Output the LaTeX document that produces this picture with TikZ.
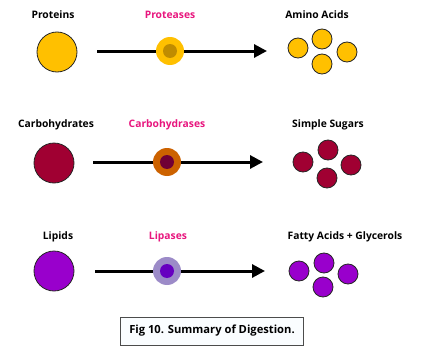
\documentclass[tikz,border=0pt]{standalone}
\usepackage{fontspec}
\setmainfont{Open Sans}
\usepackage{tikz}
\usetikzlibrary{positioning, arrows.meta}

\definecolor{protyel}{HTML}{FFC000}
\definecolor{protdark}{HTML}{C08C00}
\definecolor{carbred}{HTML}{A00032}
\definecolor{carborange}{HTML}{CC6200}
\definecolor{carbdark}{HTML}{700035}
\definecolor{lippurple}{HTML}{9900CC}
\definecolor{liplav}{HTML}{9C8BC8}
\definecolor{lipdark}{HTML}{6600C0}
\definecolor{enzpink}{HTML}{E8167E}

\begin{document}
\begin{tikzpicture}[x=1pt, y=-1pt,
      font=\bfseries\fontsize{10.3}{12}\selectfont,
      lbl/.style={inner sep=0pt},
      enzlbl/.style={inner sep=0pt, text=enzpink},
      food/.style={circle, draw=black!85, line width=0.8pt, minimum size=40pt, inner sep=0pt},
      piece/.style={circle, draw=black!85, line width=0.8pt, minimum size=20pt, inner sep=0pt},
      enzyme/.style={circle, minimum size=28pt, inner sep=0pt},
      site/.style={circle, minimum size=14pt, inner sep=0pt},
      arr/.style={-{Triangle[length=13pt, width=13pt]}, line width=3pt, draw=black},
      caption/.style={draw=black!70, fill=cyan!2, line width=0.6pt, minimum width=183pt,
                      minimum height=28pt, inner sep=0pt, font=\bfseries\fontsize{11.2}{13}\selectfont}]
    \useasboundingbox[fill=white] (0,0) rectangle (421,356);
    % row 1: proteins
    \node[lbl] (p) at (53,15) {Proteins};
    \node[enzlbl] (pe) at (170,15) {Proteases};
    \node[lbl] (pp) at (317,15) {Amino Acids};
    \node[food, fill=protyel] (p1) at (57,52) {};
    \coordinate (pa1) at (97,51);
    \coordinate (pa2) at (267,51);
    \draw[arr] (pa1) -- (pa2);
    \node[enzyme, fill=protyel] (pz) at (170,51) {};
    \node[site, fill=protdark] (ps) at (pz) {};
    \node[piece, fill=protyel] (pp1) at (298,48) {};
    \node[piece, fill=protyel] (pp2) at (322,39) {};
    \node[piece, fill=protyel] (pp3) at (322,64) {};
    \node[piece, fill=protyel] (pp4) at (347,52) {};
    % row 2: carbohydrates
    \node[lbl] (c) at (56,125) {Carbohydrates};
    \node[enzlbl] (ce) at (167,125) {Carbohydrases};
    \node[lbl] (cp) at (328,125) {Simple Sugars};
    \node[food, fill=carbred] (c1) at (54,163) {};
    \coordinate (ca1) at (93,162);
    \coordinate (ca2) at (263,162);
    \draw[arr] (ca1) -- (ca2);
    \node[enzyme, fill=carborange] (cz) at (167,162) {};
    \node[site, fill=carbdark] (cs) at (cz) {};
    \node[piece, fill=carbred] (cp1) at (303,162) {};
    \node[piece, fill=carbred] (cp2) at (328,150) {};
    \node[piece, fill=carbred] (cp3) at (327,178) {};
    \node[piece, fill=carbred] (cp4) at (351,165) {};
    % row 3: lipids
    \node[lbl] (l) at (58,237) {Lipids};
    \node[enzlbl] (le) at (168,237) {Lipases};
    \node[lbl] (lp) at (345,237) {Fatty Acids + Glycerols};
    \node[food, fill=lippurple] (l1) at (54,271) {};
    \coordinate (la1) at (95,271);
    \coordinate (la2) at (265,271);
    \draw[arr] (la1) -- (la2);
    \node[enzyme, fill=liplav] (lz) at (167,271) {};
    \node[site, fill=lipdark] (ls) at (lz) {};
    \node[piece, fill=lippurple] (lp1) at (299,271) {};
    \node[piece, fill=lippurple] (lp2) at (324,263) {};
    \node[piece, fill=lippurple] (lp3) at (323,287) {};
    \node[piece, fill=lippurple] (lp4) at (348,274) {};
    % caption
    \node[caption] (cap) at (212,331) {Fig 10. Summary of Digestion.};
  \end{tikzpicture}
\end{document}
